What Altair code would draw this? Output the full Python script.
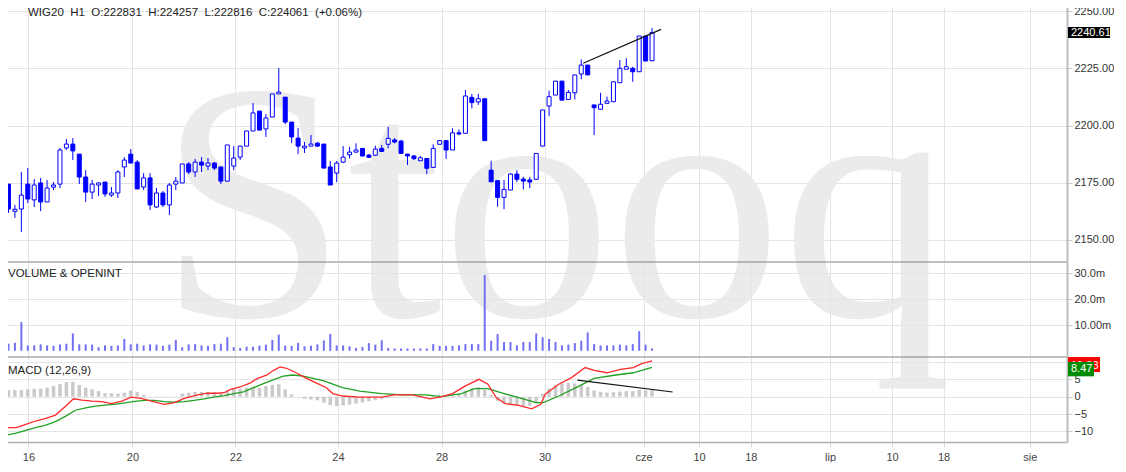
import json
import altair as alt
import pandas as pd

# ---------------- data ----------------
opens = [2174.4, 2162.5, 2163.5, 2174.4, 2167.5, 2174.9, 2166.6, 2173.1, 2174.4, 2190.2,
         2191.9, 2187.5, 2177.5, 2170.9, 2174.0, 2175.3, 2169.6, 2170.5, 2181.9, 2187.5,
         2184.0, 2173.1, 2177.1, 2164.4, 2170.5, 2165.3, 2174.4, 2174.9, 2183.2, 2179.7,
         2184.0, 2182.3, 2183.6, 2181.9, 2175.7, 2182.3, 2186.2, 2191.0, 2197.6, 2206.3,
         2198.5, 2203.7, 2213.8, 2212.4, 2201.5, 2194.5, 2190.2, 2191.0, 2192.3, 2191.9,
         2181.9, 2179.2, 2184.0, 2187.2, 2188.4, 2190.0, 2187.1, 2187.0, 2190.0, 2191.8,
         2193.7, 2193.2, 2187.5, 2186.7, 2184.6, 2185.6, 2181.7, 2191.8, 2193.4, 2189.3,
         2196.8, 2196.6, 2212.3, 2210.3, 2211.7, 2180.5, 2175.9, 2168.6, 2171.8, 2178.8,
         2176.6, 2176.2, 2176.5, 2191.0, 2208.5, 2213.3, 2219.4, 2211.4, 2214.3, 2222.5,
         2226.4, 2209.0, 2207.1, 2209.7, 2210.4, 2218.7, 2224.6, 2225.0, 2223.5, 2239.1,
         2228.31]
highs = [2174.4, 2165.3, 2179.7, 2181.4, 2176.6, 2177.1, 2176.2, 2175.3, 2190.2, 2194.1,
         2194.5, 2187.5, 2180.5, 2176.2, 2175.3, 2175.3, 2173.1, 2180.5, 2186.2, 2189.7,
         2184.9, 2179.2, 2179.2, 2172.7, 2171.4, 2174.9, 2177.5, 2183.2, 2184.0, 2185.4,
         2186.2, 2185.8, 2184.0, 2181.9, 2191.5, 2191.0, 2191.0, 2197.6, 2209.8, 2206.3,
         2205.0, 2213.8, 2225.1, 2212.4, 2201.5, 2198.9, 2192.8, 2195.9, 2192.8, 2191.9,
         2184.5, 2184.5, 2191.0, 2190.7, 2192.2, 2190.0, 2187.5, 2191.2, 2191.5, 2199.5,
         2194.5, 2193.7, 2187.5, 2187.1, 2186.7, 2185.6, 2191.8, 2193.4, 2193.4, 2198.8,
         2198.3, 2215.5, 2213.8, 2213.8, 2211.7, 2184.6, 2175.9, 2176.2, 2179.1, 2180.5,
         2177.6, 2177.6, 2187.8, 2206.8, 2215.2, 2219.4, 2219.4, 2215.5, 2222.1, 2228.9,
         2226.4, 2209.0, 2214.3, 2212.6, 2219.1, 2228.6, 2229.4, 2225.7, 2239.1, 2239.1,
         2242.57]
lows = [2161.8, 2159.6, 2153.5, 2166.1, 2164.4, 2162.6, 2166.6, 2171.8, 2172.7, 2189.3,
        2184.9, 2174.4, 2166.6, 2167.9, 2169.2, 2168.8, 2168.8, 2168.3, 2177.5, 2183.6,
        2172.3, 2171.8, 2163.1, 2164.0, 2164.4, 2160.9, 2171.8, 2174.9, 2178.8, 2177.5,
        2179.7, 2180.5, 2180.5, 2174.4, 2175.7, 2180.5, 2184.9, 2191.0, 2197.6, 2198.0,
        2195.0, 2203.7, 2213.8, 2200.6, 2192.3, 2187.5, 2188.0, 2191.0, 2190.6, 2181.4,
        2174.0, 2175.3, 2183.6, 2185.6, 2188.1, 2186.4, 2185.8, 2186.7, 2188.5, 2190.0,
        2192.2, 2187.8, 2182.7, 2184.9, 2184.6, 2178.7, 2181.7, 2191.8, 2185.4, 2189.3,
        2195.8, 2196.6, 2207.5, 2209.0, 2193.4, 2175.4, 2164.5, 2163.4, 2171.8, 2175.3,
        2172.1, 2172.6, 2176.5, 2191.0, 2204.1, 2213.3, 2211.1, 2211.4, 2211.4, 2220.2,
        2222.1, 2195.8, 2207.1, 2209.7, 2210.4, 2218.7, 2224.6, 2219.1, 2223.5, 2228.2,
        2228.16]
closes = [2163.5, 2163.4, 2169.6, 2167.9, 2174.0, 2166.6, 2172.7, 2174.0, 2189.3, 2191.9,
          2188.9, 2177.5, 2170.9, 2174.4, 2174.9, 2170.1, 2170.5, 2179.7, 2184.9, 2183.6,
          2172.3, 2177.1, 2165.3, 2170.5, 2165.3, 2174.0, 2175.7, 2183.2, 2179.7, 2184.0,
          2182.7, 2183.6, 2181.4, 2175.7, 2191.5, 2185.8, 2191.0, 2197.6, 2205.5, 2198.0,
          2203.3, 2213.8, 2214.6, 2201.5, 2195.0, 2191.0, 2191.0, 2191.9, 2191.0, 2181.4,
          2174.0, 2183.6, 2186.2, 2188.4, 2189.3, 2186.7, 2186.1, 2189.7, 2188.7, 2194.4,
          2192.8, 2187.8, 2186.7, 2185.5, 2185.9, 2181.3, 2190.0, 2193.4, 2189.3, 2196.8,
          2196.3, 2212.9, 2210.0, 2211.7, 2193.4, 2175.4, 2168.6, 2172.1, 2178.8, 2176.5,
          2175.7, 2175.3, 2187.8, 2206.8, 2212.6, 2219.4, 2211.1, 2214.5, 2222.1, 2226.4,
          2222.1, 2207.8, 2209.3, 2210.7, 2219.1, 2225.0, 2225.7, 2223.5, 2239.1, 2228.2,
          2240.61]
volume_m = [2.75, 3.1, 11.1, 2.1, 2.1, 2.5, 2.1, 1.9, 2.5, 2.75,
            6.75, 2.5, 2.5, 2.4, 1.4, 2.1, 1.9, 2.1, 4.6, 2.5,
            2.75, 2.1, 2.5, 2.4, 1.9, 2.4, 4.25, 1.4, 2.5, 2.6,
            2.1, 1.9, 2.6, 2.75, 5.25, 1.4, 1.1, 1.6, 1.6, 2.0,
            2.4, 4.25, 6.25, 2.0, 1.9, 3.1, 1.75, 2.0, 2.5, 4.0,
            6.5, 2.1, 2.1, 1.75, 1.1, 1.5, 3.0, 2.4, 4.1, 1.1,
            0.9, 0.9, 0.9, 0.9, 0.9, 0.9, 2.6, 1.9, 1.9, 1.9,
            2.1, 2.6, 2.6, 2.6, 29.4, 3.9, 6.5, 3.4, 3.4, 2.1,
            3.4, 3.4, 6.75, 5.25, 4.6, 3.4, 2.1, 2.4, 3.0, 3.9,
            7.1, 2.6, 2.1, 2.1, 2.1, 2.4, 2.1, 2.6, 7.6, 2.4,
            0.9]
macd_hist = [1.9, 1.9, 1.9, 2.1, 2.3, 2.3, 2.6, 3.1, 3.6, 4.2,
             4.3, 3.4, 2.6, 2.1, 1.6, 1.0, 1.0, 0.9, 1.15, 1.8,
             1.4, 0.5, 0.05, -0.1, -0.1, 0.05, 0.05, 0.9, 1.15, 1.35,
             1.35, 1.35, 1.35, 1.0, 1.8, 2.3, 2.3, 2.6, 2.8, 2.6,
             3.1, 3.4, 3.6, 2.1, 0.7, 0.05, -0.6, -0.8, -1.05, -1.7,
             -2.4, -2.7, -2.5, -2.3, -2.0, -1.7, -1.3, -1.0, -0.7, -0.4,
             -0.2, 0.05, 0.05, 0.05, 0.1, 0.05, 0.2, 0.3, 0.1, 0.3,
             0.8, 1.8, 2.4, 2.8, 2.0, 0.5, -1.2, -2.0, -2.4, -2.6,
             -2.7, -2.6, -1.5, 0.8, 2.4, 3.4, 3.8, 4.0, 3.8, 3.4,
             2.8, 1.8, 1.4, 1.2, 1.3, 1.5, 1.6, 1.6, 2.0, 1.8,
             1.9]
macd_t = [-0.4, 1.2, 2.7, 4.2, 5.8, 7.3, 8.9, 10.1, 11.4, 13.0, 14.5, 16.0, 17.6, 19.1,
          20.6, 22.2, 24.2, 25.8, 27.3, 29.4, 30.9, 32.4, 33.5, 34.5, 36.0, 37.6, 38.6,
          40.1, 41.2, 42.2, 43.2, 44.7, 46.3, 47.8, 49.4, 50.4, 51.9, 54.5, 58.0, 60.0,
          62.8, 65.5, 67.3, 69.0, 71.0, 73.1, 74.5, 75.8, 77.2, 79.3, 81.3, 82.7, 83.4,
          85.5, 87.5, 89.6, 91.0, 93.0, 95.1, 97.1, 98.4, 100.0]
macd_v = [-8.9, -8.9, -8.0, -7.0, -6.25, -5.3, -2.7, -0.6, -1.0, -1.25, -1.4, -2.0, -1.25,
          -0.1, -0.5, -1.25, -2.2, -1.7, -0.5, 0.5, 1.0, 1.0, 1.15, 2.1, 2.8, 4.0, 5.2,
          6.2, 7.6, 8.6, 8.2, 6.9, 5.3, 4.0, 2.6, 0.9, 0.2, -0.1, -0.1, 0.5,
          0.5, -0.6, 0.0, 0.9, 3.1, 5.0, 3.6, -0.3, -2.0, -2.5, -3.5, -2.2, 0.7,
          3.6, 5.5, 8.4, 7.6, 6.9, 7.9, 8.4, 9.5, 10.3]
signal_t = [-0.4, 1.2, 2.7, 4.2, 5.8, 7.3, 8.9, 10.4, 12.0, 13.5, 15.0, 16.5, 18.1, 19.6,
            21.2, 22.7, 24.2, 25.8, 27.3, 28.8, 30.4, 31.9, 33.5, 35.0, 36.5, 38.1, 39.6,
            41.2, 42.7, 44.2, 45.8, 47.3, 48.8, 50.4, 51.9, 54.6, 58.0, 61.4, 64.8, 67.3,
            70.4, 72.4, 74.5, 76.5, 79.3, 82.0, 83.1, 85.5, 88.2, 91.0, 94.4, 97.1, 100.0]
signal_v = [-11.1, -10.5, -9.7, -8.9, -8.2, -7.2, -5.6, -3.9, -3.2, -2.7, -2.4, -2.2, -1.8,
            -1.35, -1.05, -1.05, -1.4, -1.6, -1.4, -1.05, -0.6, -0.1, 0.3, 0.9, 1.4, 2.6,
            3.75, 4.9, 5.9, 6.25, 5.9, 5.3, 4.7, 3.6, 2.6, 1.6, 0.9, 0.5, 0.5, 0.0,
            0.9, 2.3, 2.3, 1.15, -0.3, -1.7, -1.7, 0.2, 2.6, 5.3, 6.25, 6.9, 8.47]
price_trend_t = [89.3, 101.4]
price_trend_p = [2227.2, 2242.0]
macd_trend_t = [88.4, 103.2]
macd_trend_v = [4.8, 1.35]

x_tick_pos = [3.1, 19.26, 35.26, 51.2, 67.3, 83.3, 98.7, 107.3, 115.35, 127.66, 137.3, 145.3, 158.7]
x_tick_lab = ["16", "20", "22", "24", "28", "30", "cze", "10", "18", "lip", "10", "18", "sie"]
price_ticks = [2150, 2175, 2200, 2225, 2250]
vol_tick_vals = [10, 20, 30]
vol_tick_labs = ["10.00m", "20.0m", "30.0m"]
macd_ticks = [-10, -5, 0, 5, 10]

title_text = "WIG20\u00a0\u00a0H1\u00a0\u00a0O:222831\u00a0\u00a0H:224257\u00a0\u00a0L:222816\u00a0\u00a0C:224061\u00a0\u00a0(+0.06%)"
macd_labels = {"macd": "10.33", "signal": "8.47"}

# ---------------- frames ----------------
n = len(opens)
candles = pd.DataFrame({"t": list(range(n)), "o": opens, "h": highs, "l": lows, "c": closes,
                        "v": volume_m, "hist": macd_hist})
macd_df = pd.DataFrame({"t": macd_t, "v": macd_v})
sig_df = pd.DataFrame({"t": signal_t, "v": signal_v})
ptrend = pd.DataFrame({"t": price_trend_t, "p": price_trend_p})
mtrend = pd.DataFrame({"t": macd_trend_t, "v": macd_trend_v})

W = 1066
FONT = "Liberation Sans"
GRID = "#e4e4e4"
BLUE = "#0000ff"

xscale = alt.Scale(domain=[-0.385, 163.7], nice=False, zero=False)
x_hidden = alt.Axis(values=x_tick_pos, labels=False, ticks=False, domain=False, grid=True,
                    gridColor=GRID, title=None)
x_lab_expr = f"{json.dumps(x_tick_lab)}[indexof({json.dumps(x_tick_pos)}, datum.value)]"
x_bottom = alt.Axis(values=x_tick_pos, labelExpr=x_lab_expr, grid=True, gridColor=GRID,
                    ticks=True, tickColor="#d8d8d8", tickSize=5, domain=True, domainColor="#b0b0b0",
                    domainWidth=1.5, labelFont=FONT, labelFontSize=11, labelColor="#444444",
                    labelPadding=4, labelFlush=False, labelOverlap=False, title=None)


def yaxis(values, **kw):
    return alt.Axis(orient="right", values=values, grid=True, gridColor=GRID, ticks=True,
                    tickColor="#cccccc", tickSize=5, domain=True, domainColor="#bdbdbd",
                    domainWidth=2, labelFont=FONT, labelFontSize=11, labelColor="#333333",
                    labelPadding=2, title=None, **kw)


def sep(h):
    return alt.Chart(pd.DataFrame({"a": [0]})).mark_rule(color="#808080", strokeWidth=1).encode(
        x=alt.value(0), x2=alt.value(W), y=alt.value(h))


def label(text, x, y, size=11.5):
    return alt.Chart(pd.DataFrame({"s": [text]})).mark_text(
        align="left", baseline="middle", font=FONT, fontSize=size, color="#222222").encode(
        x=alt.value(x), y=alt.value(y), text="s:N")


# ---------------- price panel ----------------
PH = 262
pscale = alt.Scale(domain=[2140.36, 2254.85], nice=False, zero=False)
paxis = yaxis(price_ticks, format=".2f")

watermark = alt.Chart(pd.DataFrame({"s": ["Stooq"]})).mark_text(
    font="Liberation Serif", fontSize=340, color="#ebebeb", align="center",
    baseline="alphabetic").encode(x=alt.value(554), y=alt.value(316), text="s:N")

wicks = alt.Chart(candles).mark_rule(color=BLUE, strokeWidth=1).encode(
    x=alt.X("t:Q", scale=xscale, axis=x_hidden),
    y=alt.Y("l:Q", scale=pscale, axis=paxis),
    y2="h:Q")

bodies = alt.Chart(candles).transform_calculate(
    fillc=f"datum.c >= datum.o ? 'white' : '{BLUE}'"
).mark_bar(size=4, stroke=BLUE, strokeWidth=1).encode(
    x=alt.X("t:Q", scale=xscale, axis=x_hidden),
    y=alt.Y("o:Q", scale=pscale, axis=paxis),
    y2="c:Q",
    fill=alt.Fill("fillc:N", scale=None))

ptrend_line = alt.Chart(ptrend).mark_line(color="#111111", strokeWidth=1.2).encode(
    x=alt.X("t:Q", scale=xscale, axis=x_hidden), y=alt.Y("p:Q", scale=pscale, axis=paxis))

last = pd.DataFrame({"c": [closes[-1]]})
last_box = alt.Chart(last).transform_calculate(
    top="datum.c + 2.4", bot="datum.c - 2.4").mark_rect(color="black").encode(
    x=alt.value(W + 1), x2=alt.value(W + 43),
    y=alt.Y("top:Q", scale=pscale, axis=paxis), y2="bot:Q")
last_txt = alt.Chart(last).mark_text(align="left", baseline="middle", font=FONT, fontSize=11,
                                     color="white").encode(
    x=alt.value(W + 4), y=alt.Y("c:Q", scale=pscale, axis=paxis),
    text=alt.Text("c:Q", format=".2f"))

price = alt.layer(watermark, wicks, bodies, ptrend_line, last_box, last_txt,
                  label(title_text, 27, 13), sep(PH)).properties(width=W, height=PH)

# ---------------- volume panel ----------------
VH = 95
vscale = alt.Scale(domain=[-2.4, 34.42], nice=False, zero=False)
vol_expr = f"{json.dumps(vol_tick_labs)}[indexof({json.dumps(vol_tick_vals)}, datum.value)]"
vol_bars = alt.Chart(candles).mark_bar(size=2, color="#7070f2").encode(
    x=alt.X("t:Q", scale=xscale, axis=x_hidden),
    y=alt.Y("v:Q", scale=vscale, axis=yaxis(vol_tick_vals, labelExpr=vol_expr)),
    y2=alt.datum(0))
volume = alt.layer(vol_bars, label("VOLUME & OPENINT", 7, 12), sep(VH)).properties(
    width=W, height=VH)

# ---------------- MACD panel ----------------
MH = 85
mscale = alt.Scale(domain=[-13.05, 11.44], nice=False, zero=False)
maxis = yaxis(macd_ticks)
hist = alt.Chart(candles).mark_bar(size=3.5, color="#cacaca").encode(
    x=alt.X("t:Q", scale=xscale, axis=x_bottom),
    y=alt.Y("hist:Q", scale=mscale, axis=maxis),
    y2=alt.datum(0))
sig_line = alt.Chart(sig_df).mark_line(color="#22a022", strokeWidth=1.3).encode(
    x=alt.X("t:Q", scale=xscale, axis=x_bottom), y=alt.Y("v:Q", scale=mscale, axis=maxis))
macd_line = alt.Chart(macd_df).mark_line(color="#ff2a2a", strokeWidth=1.3).encode(
    x=alt.X("t:Q", scale=xscale, axis=x_bottom), y=alt.Y("v:Q", scale=mscale, axis=maxis))
mtrend_line = alt.Chart(mtrend).mark_line(color="#111111", strokeWidth=1.2).encode(
    x=alt.X("t:Q", scale=xscale, axis=x_bottom), y=alt.Y("v:Q", scale=mscale, axis=maxis))

lab_df = pd.DataFrame({"v": [float(macd_labels["macd"]), float(macd_labels["signal"])],
                       "s": [macd_labels["macd"], macd_labels["signal"]]})
red_box = alt.Chart(lab_df.iloc[[0]]).transform_calculate(
    top="datum.v + 1.1", bot="datum.v - 3.2").mark_rect(color="#ff0000").encode(
    x=alt.value(W + 1), x2=alt.value(W + 33),
    y=alt.Y("top:Q", scale=mscale, axis=maxis), y2="bot:Q")
red_txt = alt.Chart(lab_df.iloc[[0]]).transform_calculate(mid="datum.v - 1.5").mark_text(
    align="left", baseline="middle", font=FONT, fontSize=11, color="white").encode(
    x=alt.value(W + 4), y=alt.Y("mid:Q", scale=mscale, axis=maxis), text="s:N")
green_box = alt.Chart(lab_df.iloc[[1]]).transform_calculate(
    top="datum.v + 1.55", bot="datum.v - 2.6").mark_rect(color="#008a00").encode(
    x=alt.value(W + 1), x2=alt.value(W + 27),
    y=alt.Y("top:Q", scale=mscale, axis=maxis), y2="bot:Q")
green_txt = alt.Chart(lab_df.iloc[[1]]).transform_calculate(mid="datum.v - 0.53").mark_text(
    align="left", baseline="middle", font=FONT, fontSize=11, color="white").encode(
    x=alt.value(W + 4), y=alt.Y("mid:Q", scale=mscale, axis=maxis), text="s:N")

macd = alt.layer(hist, sig_line, macd_line, mtrend_line, red_box, red_txt, green_box, green_txt,
                 label("MACD (12,26,9)", 7, 14)).properties(width=W, height=MH)

chart = alt.vconcat(price, volume, macd, spacing=0, bounds="flush").properties(
    padding={"left": -8, "top": -8, "right": 0, "bottom": 0}
).configure_view(stroke=None)

chart.save("out.html", embed_options={"renderer": "svg", "actions": False})
